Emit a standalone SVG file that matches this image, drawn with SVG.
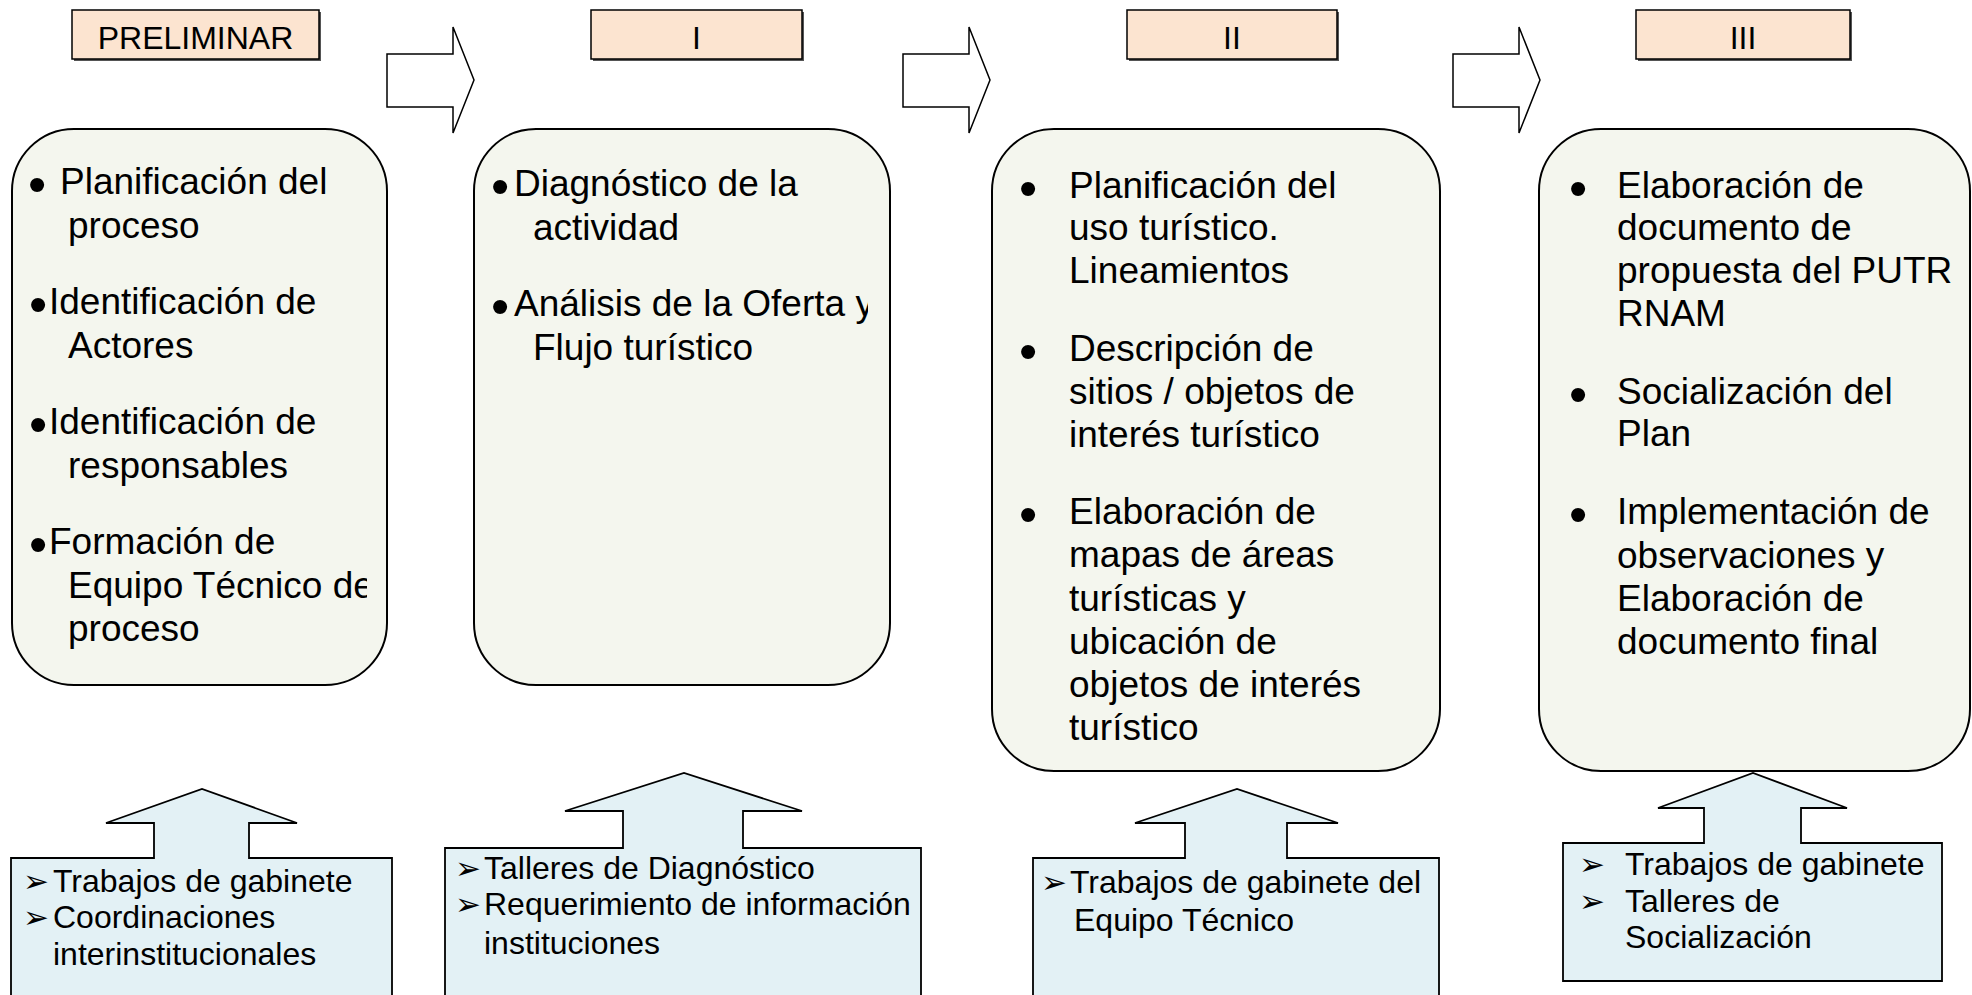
<svg xmlns="http://www.w3.org/2000/svg" width="1972" height="995" viewBox="0 0 1972 995">
<style>
.hdr{fill:#FCE4D0;stroke:#000;stroke-width:1.5}
.shd{fill:#555}
.ht{font-family:"Liberation Sans",Arial,sans-serif;font-size:32px;fill:#000;text-anchor:middle}
.rb{fill:#F4F6EE;stroke:#000;stroke-width:2}
.ra{fill:#fff;stroke:#000;stroke-width:1.5;stroke-linejoin:miter}
.cb{fill:#E3F1F5;stroke:#000;stroke-width:1.8;stroke-linejoin:miter}
.t{font-family:"Liberation Sans",Arial,sans-serif;font-size:37px;fill:#000}
.b{font-family:"Liberation Sans",Arial,sans-serif;font-size:52px;fill:#000;text-anchor:middle}
.s{font-family:"Liberation Sans",Arial,sans-serif;font-size:32px;fill:#000}
.sb{font-family:"DejaVu Sans",sans-serif;font-size:31px;fill:#000}
</style>
<defs>
<clipPath id="c1"><rect x="0" y="120" width="367" height="570"/></clipPath>
<clipPath id="c2"><rect x="474" y="120" width="394" height="570"/></clipPath>
</defs>
<rect width="1972" height="995" fill="#fff"/>

<g id="connectors">
<path class="ra" d="M387,54 H453 V27 L474,80 L453,133 V107 H387 Z"/>
<path class="ra" d="M903,54 H969 V27 L990,80 L969,133 V107 H903 Z"/>
<path class="ra" d="M1453,54 H1519 V27 L1540,80 L1519,133 V107 H1453 Z"/>
</g>

<g id="hdr-preliminar">
<rect class="shd" x="74" y="12" width="247" height="49"/>
<rect class="hdr" x="72" y="10" width="247" height="49"/>
<text class="ht" x="195.5" y="49">PRELIMINAR</text>
</g>
<g id="hdr-i">
<rect class="shd" x="593" y="12" width="211" height="49"/>
<rect class="hdr" x="591" y="10" width="211" height="49"/>
<text class="ht" x="696.5" y="49">I</text>
</g>
<g id="hdr-ii">
<rect class="shd" x="1129" y="12" width="210" height="49"/>
<rect class="hdr" x="1127" y="10" width="210" height="49"/>
<text class="ht" x="1232" y="49">II</text>
</g>
<g id="hdr-iii">
<rect class="shd" x="1638" y="12" width="214" height="49"/>
<rect class="hdr" x="1636" y="10" width="214" height="49"/>
<text class="ht" x="1743" y="49">III</text>
</g>

<g id="box-preliminar">
<rect class="rb" x="12" y="129" width="375" height="556" rx="62" ry="62"/>
<g clip-path="url(#c1)">
<text class="b" x="37" y="202">•</text>
<text class="t" x="60" y="194">Planificación del</text>
<text class="t" x="68" y="238">proceso</text>
<text class="b" x="38" y="322">•</text>
<text class="t" x="49" y="314">Identificación de</text>
<text class="t" x="68" y="358">Actores</text>
<text class="b" x="38" y="442">•</text>
<text class="t" x="49" y="434">Identificación de</text>
<text class="t" x="68" y="478">responsables</text>
<text class="b" x="38" y="562">•</text>
<text class="t" x="49" y="554">Formación de</text>
<text class="t" x="68" y="598">Equipo Técnico de</text>
<text class="t" x="68" y="641">proceso</text>
</g>
</g>

<g id="box-i">
<rect class="rb" x="474" y="129" width="416" height="556" rx="62" ry="62"/>
<g clip-path="url(#c2)">
<text class="b" x="500" y="204">•</text>
<text class="t" x="514" y="196">Diagnóstico de la</text>
<text class="t" x="533" y="240">actividad</text>
<text class="b" x="500" y="324">•</text>
<text class="t" x="514" y="316">Análisis de la Oferta y</text>
<text class="t" x="533" y="360">Flujo turístico</text>
</g>
</g>

<g id="box-ii">
<rect class="rb" x="992" y="129" width="448" height="642" rx="62" ry="62"/>
<text class="b" x="1028" y="206">•</text>
<text class="t" x="1069" y="198">Planificación del</text>
<text class="t" x="1069" y="240">uso turístico.</text>
<text class="t" x="1069" y="283">Lineamientos</text>
<text class="b" x="1028" y="369">•</text>
<text class="t" x="1069" y="361">Descripción de</text>
<text class="t" x="1069" y="404">sitios / objetos de</text>
<text class="t" x="1069" y="447">interés turístico</text>
<text class="b" x="1028" y="532">•</text>
<text class="t" x="1069" y="524">Elaboración de</text>
<text class="t" x="1069" y="567">mapas de áreas</text>
<text class="t" x="1069" y="611">turísticas y</text>
<text class="t" x="1069" y="654">ubicación de</text>
<text class="t" x="1069" y="697">objetos de interés</text>
<text class="t" x="1069" y="740">turístico</text>
</g>

<g id="box-iii">
<rect class="rb" x="1539" y="129" width="431" height="642" rx="62" ry="62"/>
<text class="b" x="1578" y="206">•</text>
<text class="t" x="1617" y="198">Elaboración de</text>
<text class="t" x="1617" y="240">documento de</text>
<text class="t" x="1617" y="283">propuesta del PUTR</text>
<text class="t" x="1617" y="326">RNAM</text>
<text class="b" x="1578" y="412">•</text>
<text class="t" x="1617" y="404">Socialización del</text>
<text class="t" x="1617" y="446">Plan</text>
<text class="b" x="1578" y="532">•</text>
<text class="t" x="1617" y="524">Implementación de</text>
<text class="t" x="1617" y="568">observaciones y</text>
<text class="t" x="1617" y="611">Elaboración de</text>
<text class="t" x="1617" y="654">documento final</text>
</g>

<g id="input-preliminar">
<path class="cb" d="M11,858 H154 V823 H106 L202,789 L297,823 H249 V858 H392 V1000 H11 Z"/>
<text class="sb" x="23" y="892">➢</text>
<text class="s" x="53" y="892">Trabajos de gabinete</text>
<text class="sb" x="23" y="928">➢</text>
<text class="s" x="53" y="928">Coordinaciones</text>
<text class="s" x="53" y="965">interinstitucionales</text>
</g>

<g id="input-i">
<path class="cb" d="M445,848 H623 V811 H565 L684,773 L802,811 H743 V848 H921 V1000 H445 Z"/>
<text class="sb" x="455" y="879">➢</text>
<text class="s" x="484" y="879">Talleres de Diagnóstico</text>
<text class="sb" x="455" y="915">➢</text>
<text class="s" x="484" y="915">Requerimiento de información</text>
<text class="s" x="484" y="954">instituciones</text>
</g>

<g id="input-ii">
<path class="cb" d="M1033,858 H1185 V823 H1135 L1237,789 L1338,823 H1287 V858 H1439 V1000 H1033 Z"/>
<text class="sb" x="1041" y="893">➢</text>
<text class="s" x="1070" y="893">Trabajos de gabinete del</text>
<text class="s" x="1074" y="931">Equipo Técnico</text>
</g>

<g id="input-iii">
<path class="cb" d="M1563,843 H1704 V808 H1658 L1753,773 L1847,808 H1801 V843 H1942 V981 H1563 Z"/>
<text class="sb" x="1579" y="875">➢</text>
<text class="s" x="1625" y="875">Trabajos de gabinete</text>
<text class="sb" x="1579" y="912">➢</text>
<text class="s" x="1625" y="912">Talleres de</text>
<text class="s" x="1625" y="948">Socialización</text>
</g>
</svg>
